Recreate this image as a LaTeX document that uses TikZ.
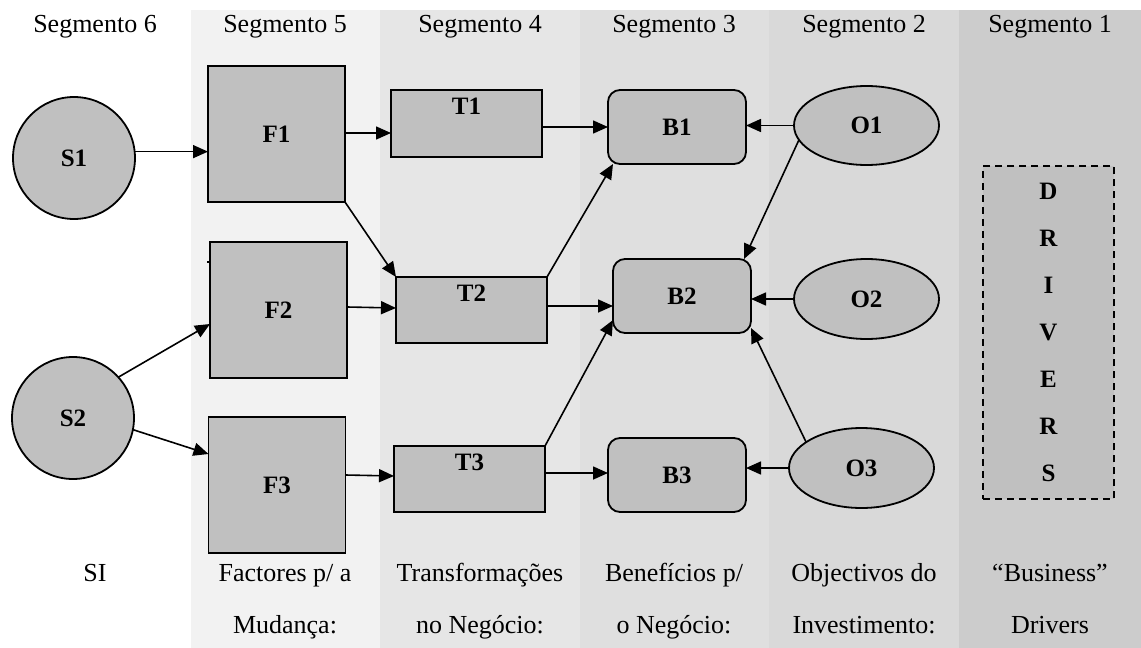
\documentclass[tikz,border=0pt]{standalone}
\usepackage{fontspec}
\setmainfont{Liberation Serif}
\usetikzlibrary{arrows.meta,shapes.geometric}

\definecolor{segfive}{HTML}{F2F2F2}
\definecolor{segfour}{HTML}{E6E6E6}
\definecolor{segthree}{HTML}{DFDFDF}
\definecolor{segtwo}{HTML}{D9D9D9}
\definecolor{segone}{HTML}{CCCCCC}
\definecolor{nodefill}{HTML}{C0C0C0}

\newcommand\capfont{\fontsize{26}{30}\selectfont}
\newcommand\nodefont{\fontsize{25}{30}\selectfont\bfseries}

\begin{document}
\begin{tikzpicture}[x=1pt,y=-1pt,
  every node/.style={inner sep=0pt, outer sep=0pt},
  base/.style={draw=black, line width=1.8pt, fill=nodefill, font=\nodefont},
  circ/.style={base, circle, minimum size=122pt},
  fbox/.style={base, rectangle, minimum width=137pt, minimum height=136pt},
  tbox/.style={base, rectangle, minimum width=151pt, minimum height=67pt},
  bbox/.style={base, rectangle, rounded corners=12pt, minimum width=138pt, minimum height=74pt},
  obj/.style={base, ellipse, minimum width=145pt, minimum height=79pt},
  tlabel/.style={font=\nodefont, anchor=north, yshift=-8pt},
  caption/.style={font=\capfont, anchor=base},
  arr/.style={-{Triangle[length=15pt,width=13pt]}, line width=1.6pt}]

\useasboundingbox (0,0) rectangle (1141,648);

% segment bands
\fill[segfive]  (191,10) rectangle (380,648);
\fill[segfour]  (380,10) rectangle (580,648);
\fill[segthree] (580,10) rectangle (769,648);
\fill[segtwo]   (769,10) rectangle (959,648);
\fill[segone]   (959,10) rectangle (1141,648);

% segment headings
\node[caption] (h6) at (95,32)   {Segmento 6};
\node[caption] (h5) at (285,32)  {Segmento 5};
\node[caption] (h4) at (480,32)  {Segmento 4};
\node[caption] (h3) at (674,32)  {Segmento 3};
\node[caption] (h2) at (864,32)  {Segmento 2};
\node[caption] (h1) at (1050,32) {Segmento 1};

% segment descriptions
\node[caption] (d6a) at (95,581)   {SI};
\node[caption] (d5a) at (285,581)  {Factores p/ a};
\node[caption] (d5b) at (285,633)  {Mudança:};
\node[caption] (d4a) at (480,581)  {Transformações};
\node[caption] (d4b) at (480,633)  {no Negócio:};
\node[caption] (d3a) at (674,581)  {Benefícios p/};
\node[caption] (d3b) at (674,633)  {o Negócio:};
\node[caption] (d2a) at (864,581)  {Objectivos do};
\node[caption] (d2b) at (864,633)  {Investimento:};
\node[caption] (d1a) at (1050,581) {“Business”};
\node[caption] (d1b) at (1050,633) {Drivers};

% systems
\node[circ] (S1) at (74,158) {S1};
\node[circ] (S2) at (73,418) {S2};

% change factors
\node[fbox] (F1) at (276.5,134) {F1};
\node[fbox] (F2) at (278.5,310) {F2};
\node[fbox] (F3) at (277,485)   {F3};
\fill (206.5,260.5) rectangle (209,263);

% business transformations
\node[tbox, label={[tlabel]north:T1}] (T1) at (466.5,123.5) {};
\node[tbox, minimum height=66pt, label={[tlabel]north:T2}] (T2) at (471.5,310) {};
\node[tbox, minimum height=66pt, label={[tlabel]north:T3}] (T3) at (469.5,479) {};

% business benefits
\node[bbox] (B1) at (677,127) {B1};
\node[bbox] (B2) at (682,296) {B2};
\node[bbox] (B3) at (677,475) {B3};

% investment objectives
\node[obj] (O1) at (866.5,125.5) {O1};
\node[obj, minimum height=80pt] (O2) at (866.5,299) {O2};
\node[obj, minimum height=80pt] (O3) at (861.5,468) {O3};

% business drivers
\node[base, dash pattern=on 7pt off 5pt, line width=1.5pt,
      minimum width=131pt, minimum height=333pt,
      align=center, font=\fontsize{25}{47}\selectfont\bfseries]
  (DRV) at (1048.5,332.5) {D\\R\\I\\V\\E\\R\\S};

% connectors
\draw[arr] (S1.6) -- (S1.6 -| F1.west);
\draw[arr] (S2.42) -- (F2.west |- 0,324);
\draw[arr] (S2.-11) -- (F3.west |- 0,454);

\draw[arr] (F1.east |- 0,133) -- (T1.west |- 0,133);
\draw[arr] (F1.south east) -- (T2.north west);
\draw[arr] (F2.east |- 0,307) -- (T2.west |- 0,308);
\draw[arr] (F3.east |- 0,475) -- (T3.west |- 0,476);

\draw[arr] (T1.east |- B1.west) -- (B1.west);
\draw[arr] (T2.north east) -- ([xshift=5pt]B1.south west);
\draw[arr] (T2.east |- 0,306) -- (B2.west |- 0,306);
\draw[arr] (T3.north east) -- ([yshift=13pt]B2.south west);
\draw[arr] (T3.east |- 0,473) -- (B3.west |- 0,473);

\draw[arr] (O1.west) -- (O1.west -| B1.east);
\draw[arr] (O1.192) -- ([xshift=-7pt]B2.north east);
\draw[arr] (O2.west) -- (O2.west -| B2.east);
\draw[arr] (O3.155) -- ([yshift=5pt]B2.south east);
\draw[arr] (O3.west) -- (O3.west -| B3.east);

\end{tikzpicture}
\end{document}
